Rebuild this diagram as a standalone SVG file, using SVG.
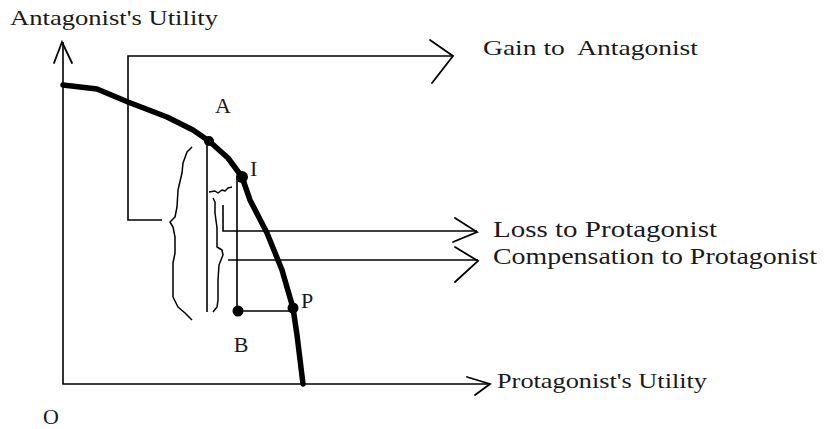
<svg xmlns="http://www.w3.org/2000/svg" width="824" height="429" viewBox="0 0 824 429">
<style>
.ln{fill:none;stroke:#000;stroke-width:1.6;stroke-linejoin:miter}
.ah{fill:none;stroke:#000;stroke-width:1.8;stroke-linecap:round}
.curve{fill:none;stroke:#000;stroke-width:5.5;stroke-linecap:round;stroke-linejoin:round}
.br{fill:none;stroke:#000;stroke-width:1.5;stroke-linejoin:round}
.dot{fill:#000}
text{font-family:"Liberation Serif","Times New Roman",serif;fill:#1a1a1a}
</style>
<rect width="824" height="429" fill="#fff"/>
<g id="axes">
  <path class="ln" d="M63,42 V384 H490"/>
  <path class="ah" d="M54,63 L62,42 L72,63"/>
  <path class="ah" d="M467,377 L490,384 L475,395"/>
  <text x="10" y="25" font-size="21" textLength="208" lengthAdjust="spacingAndGlyphs">Antagonist's Utility</text>
  <text x="497" y="388" font-size="22" textLength="210" lengthAdjust="spacingAndGlyphs">Protagonist's Utility</text>
  <text x="43" y="424" font-size="22">O</text>
</g>
<g id="frontier">
  <path class="curve" d="M63,85 L97,89 L128,102 L167,117 L193,130 L209,141 L228,158 L242,177 L250,200 L267,233 L282,270 L293,308 L297,335 L303,384"/>
</g>
<g id="connectors">
  <path class="ln" d="M207,141 V312"/>
  <path class="ln" d="M237,177 V311 H293"/>
  <path class="ln" d="M162,220 H128 V56 H453"/>
  <path class="ah" d="M430,40 L453,56 L432,83"/>
  <path class="ln" d="M223,205 V231 H477"/>
  <path class="ah" d="M455,218 L477,232 L453,242"/>
  <path class="ln" d="M228,260 H478"/>
  <path class="ah" d="M455,247 L478,261 L455,282"/>
</g>
<g id="brace-gain">
  <path class="br" d="M192,147 L187,152 L183,163 L182,173 L178,190 L177,207 L175,217 L170,222 L173,227 L175,237 L175,253 L173,263 L173,280 L173,297 L178,307 L185,313 L192,320"/>
</g>
<g id="brace-loss">
  <path class="br" d="M209,192 L215,191 L218,193 L222,190 L225,191 L228,188 L232,187"/>
  <path class="br" d="M213,198 L215,202 L215,213 L217,228 L217,247 L222,250 L223,255 L221,260 L219,265 L218,280 L218,300 L217,307 L213,312"/>
</g>
<g id="point-A">
  <circle class="dot" cx="209" cy="141" r="5"/>
  <text x="223" y="113" font-size="22" text-anchor="middle">A</text>
</g>
<g id="point-I">
  <circle class="dot" cx="242" cy="177" r="6"/>
  <text x="250" y="176" font-size="22">I</text>
</g>
<g id="point-P">
  <circle class="dot" cx="293" cy="308" r="5.5"/>
  <text x="301" y="308" font-size="22">P</text>
</g>
<g id="point-B">
  <circle class="dot" cx="238" cy="311" r="5.5"/>
  <text x="241" y="352" font-size="22" text-anchor="middle">B</text>
</g>
<g id="labels">
  <text x="483" y="55" font-size="22" textLength="215" lengthAdjust="spacingAndGlyphs" xml:space="preserve" style="white-space:pre">Gain to  Antagonist</text>
  <text x="493" y="237" font-size="23" textLength="224" lengthAdjust="spacingAndGlyphs">Loss to Protagonist</text>
  <text x="493" y="264" font-size="23" textLength="324" lengthAdjust="spacingAndGlyphs">Compensation to Protagonist</text>
</g>
</svg>
